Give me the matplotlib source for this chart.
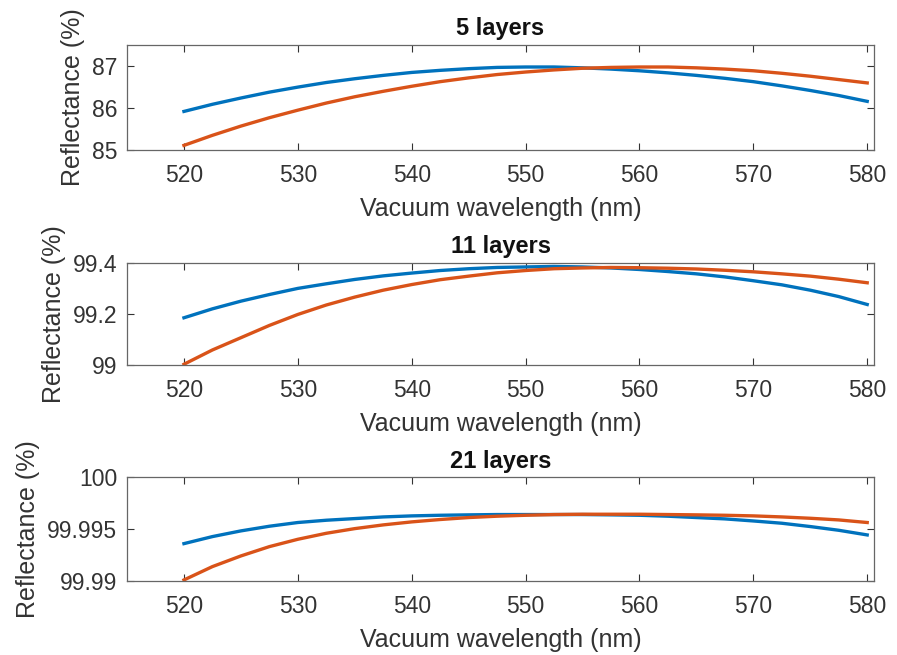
import numpy as np
import matplotlib
matplotlib.use("Agg")
import matplotlib.pyplot as plt

plt.rcParams['font.family'] = ['Liberation Sans', 'DejaVu Sans']

# wavelength points (nm)
wl = [520, 522.5, 525, 527.5, 530, 532.5, 535, 537.5, 540, 542.5, 545, 547.5, 550,
      552.5, 555, 557.5, 560, 562.5, 565, 567.5, 570, 572.5, 575, 577.5, 580]

# 5 layers
r5_blue = [85.92, 86.09, 86.24, 86.38, 86.50, 86.61, 86.70, 86.78, 86.85, 86.90, 86.94, 86.97, 86.98,
           86.98, 86.96, 86.93, 86.89, 86.84, 86.78, 86.71, 86.63, 86.53, 86.42, 86.30, 86.16]
r5_orange = [85.11, 85.35, 85.57, 85.77, 85.95, 86.12, 86.27, 86.40, 86.52, 86.63, 86.72, 86.80, 86.86,
             86.91, 86.95, 86.97, 86.98, 86.98, 86.96, 86.93, 86.89, 86.83, 86.76, 86.68, 86.60]

# 11 layers
r11_blue = [99.185, 99.220, 99.250, 99.276, 99.300, 99.318, 99.335, 99.349, 99.360, 99.370, 99.377,
            99.382, 99.384, 99.386, 99.384, 99.380, 99.374, 99.366, 99.357, 99.345, 99.330, 99.314,
            99.293, 99.268, 99.237]
r11_orange = [99.003, 99.059, 99.107, 99.155, 99.198, 99.235, 99.266, 99.293, 99.315, 99.334, 99.348,
              99.361, 99.370, 99.377, 99.380, 99.382, 99.381, 99.379, 99.376, 99.371, 99.365, 99.357,
              99.348, 99.336, 99.322]

# 21 layers
r21_blue = [99.99361, 99.99429, 99.99484, 99.99529, 99.99565, 99.99587, 99.99603, 99.99619, 99.99629,
            99.99635, 99.99639, 99.99642, 99.99642, 99.99642, 99.99642, 99.99639, 99.99635, 99.99626,
            99.99613, 99.99600, 99.99580, 99.99558, 99.99526, 99.99490, 99.99445]
r21_orange = [99.99010, 99.99139, 99.99242, 99.99332, 99.99403, 99.99461, 99.99506, 99.99542, 99.99571,
              99.99594, 99.99613, 99.99626, 99.99635, 99.99642, 99.99645, 99.99645, 99.99645, 99.99642,
              99.99639, 99.99635, 99.99629, 99.99619, 99.99606, 99.99590, 99.99565]

titles = ['5 layers', '11 layers', '21 layers']
blues = [r5_blue, r11_blue, r21_blue]
oranges = [r5_orange, r11_orange, r21_orange]
ylims = [(85, 87.5), (99, 99.4), (99.99, 100)]
yticks = [[85, 86, 87], [99, 99.2, 99.4], [99.99, 99.995, 100]]
ytlabels = [['85', '86', '87'], ['99', '99.2', '99.4'], ['99.99', '99.995', '100']]
xticks = [520, 530, 540, 550, 560, 570, 580]

fig = plt.figure(figsize=(8.97, 6.55), dpi=100)
positions = [[0.1416, 0.771, 0.8328, 0.160],
             [0.1416, 0.4427, 0.8328, 0.156],
             [0.1416, 0.113, 0.8328, 0.158]]

txt = '#333333'
for i in range(3):
    ax = fig.add_axes(positions[i])
    ax.plot(wl, blues[i], color='#0072BD', lw=2.4)
    ax.plot(wl, oranges[i], color='#D95319', lw=2.4)
    ax.set_xlim(515, 580.6)
    ax.set_ylim(*ylims[i])
    ax.set_xticks(xticks)
    ax.set_yticks(yticks[i])
    ax.set_yticklabels(ytlabels[i])
    ax.tick_params(direction='in', top=True, right=True, labelsize=16.5,
                   colors=txt, length=5, width=0.8)
    ax.tick_params(axis='x', pad=10)
    ax.tick_params(axis='y', pad=7)
    for s in ax.spines.values():
        s.set_color('#666666')
        s.set_linewidth(0.9)
    ax.set_title(titles[i], fontsize=17, fontweight='bold', color='#111111', pad=7)
    ax.set_xlabel('Vacuum wavelength (nm)', fontsize=18, color=txt, labelpad=7)
    ax.set_ylabel('Reflectance (%)', fontsize=18, color=txt, labelpad=5)

fig.savefig('out.png', dpi=100)
